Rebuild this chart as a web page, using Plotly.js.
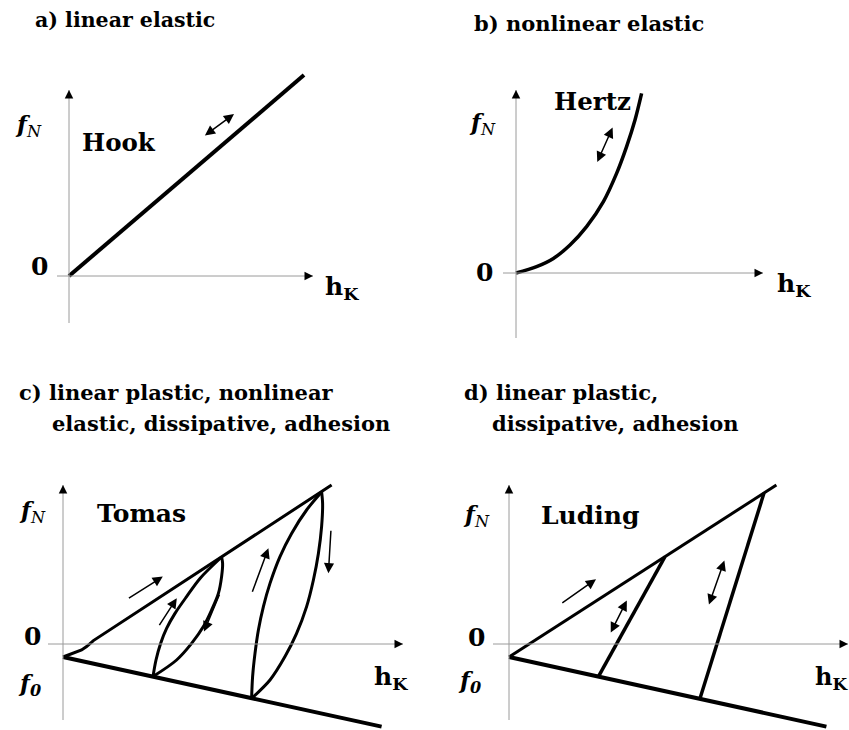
<!DOCTYPE html>
<html>
<head>
<meta charset="utf-8">
<script src="https://cdn.plot.ly/plotly-3.0.1.min.js"></script>
<style>
  html, body { margin: 0; padding: 0; background: #ffffff; }
  #chart { width: 849px; height: 730px; }
</style>
</head>
<body>
<div id="chart"></div>
<script>
// ---------------------------------------------------------------
// Contact force laws f_N(h_K), in arbitrary units
// ---------------------------------------------------------------

// a) linear elastic (Hook)
const hookH = [0, 11.75];
const hookF = [0, 10.05];

// b) nonlinear elastic (Hertz)
const hertzH = [0, 1.03, 1.87, 2.7, 3.53, 4.37, 5.03, 5.53, 5.95, 6.28];
const hertzF = [0, 0.32, 0.73, 1.4, 2.32, 3.57, 4.98, 6.32, 7.65, 8.98];

// c) Tomas: plastic loading, adhesion limit and two hysteresis loops
const tomasLoadH = [0, 0.5, 0.93, 1.18, 1.35, 1.52, 13.43];
const tomasLoadF = [-0.65, -0.47, -0.3, -0.13, 0.03, 0.17, 7.95];
const tomasAdhesionH = [0, 15.93];
const tomasAdhesionF = [-0.65, -4.13];
const tomasReload1H = [4.5, 4.65, 4.88, 5.18, 5.6, 6.18, 6.85, 7.93];
const tomasReload1F = [-1.63, -0.8, 0.03, 0.78, 1.53, 2.37, 3.28, 4.35];
const tomasUnload1H = [7.93, 7.98, 7.93, 7.77, 7.43, 7.02, 6.43, 5.68, 4.5];
const tomasUnload1F = [4.35, 4.03, 3.37, 2.53, 1.7, 0.87, 0.03, -0.8, -1.63];
const tomasReload2H = [9.43, 9.48, 9.6, 9.77, 10.02, 10.35, 10.85, 11.43, 12.18, 12.93];
const tomasReload2F = [-2.72, -1.63, -0.47, 0.7, 1.87, 3.03, 4.37, 5.53, 6.7, 7.6];
const tomasUnload2H = [12.93, 12.98, 12.93, 12.77, 12.52, 12.18, 11.68, 11.1, 10.35, 9.43];
const tomasUnload2F = [7.6, 7.03, 5.87, 4.53, 3.2, 1.87, 0.53, -0.63, -1.8, -2.72];

// d) Luding: linear plastic loading, linear unloading, adhesion limit
const ludingLoadH = [0, 13.37];
const ludingLoadF = [-0.65, 7.95];
const ludingAdhesionH = [0, 15.87];
const ludingAdhesionF = [-0.65, -4.13];
const ludingUnload1H = [7.8, 4.47];
const ludingUnload1F = [4.37, -1.63];
const ludingUnload2H = [12.75, 9.55];
const ludingUnload2F = [7.55, -2.72];

// Direction arrows: [tailH, tailF, headH, headF, twoHeaded]
const hookArrows = [[6.72, 6.97, 8.25, 8.1, true]];
const hertzArrows = [[4.03, 5.48, 4.83, 7.27, true]];
const tomasArrows = [
  [3.22, 2.24, 4.99, 3.37, false],
  [4.77, 0.87, 5.69, 2.29, false],
  [7.85, 2.54, 7.05, 0.62, false],
  [9.44, 2.54, 10.27, 4.79, false],
  [13.4, 5.74, 13.27, 3.54, false]
];
const ludingArrows = [
  [2.59, 2.0, 4.35, 3.24, false],
  [5.05, 0.5, 5.89, 2.17, true],
  [9.97, 1.9, 10.77, 4.17, true]
];

// Axis extents: [hMin, hMax, fMin, fMax]
const axisExtents = [
  [-0.6, 12.2, -2.35, 9.3],
  [-0.65, 12.35, -3.25, 9.15],
  [-0.75, 17.0, -3.8, 7.95],
  [-0.8, 16.95, -3.8, 7.95]
];

// ---------------------------------------------------------------
// Page geometry: each panel gets its own pair of hidden axes
// ---------------------------------------------------------------
const W = 849, H = 730, S = 20;   // S = pixels per unit
function frame(x0, x1, y0, y1, ox, oy) {
  return {
    x: { domain: [x0 / W, x1 / W], range: [(x0 - ox) / S, (x1 - ox) / S] },
    y: { domain: [1 - y1 / H, 1 - y0 / H], range: [(oy - y1) / S, (oy - y0) / S] }
  };
}
const frames = [
  frame(0, 424, 40, 345, 69, 276),
  frame(425, 849, 40, 345, 516, 273),
  frame(0, 424, 450, 730, 63, 644),
  frame(425, 849, 450, 730, 509, 644)
];
const refs = ['', '2', '3', '4'];

const FONT = 'DejaVu Serif';
const layout = {
  width: W, height: H,
  margin: { l: 0, r: 0, t: 0, b: 0 },
  paper_bgcolor: '#ffffff',
  plot_bgcolor: 'rgba(0,0,0,0)',
  font: { family: FONT },
  showlegend: false,
  shapes: [],
  annotations: []
};
frames.forEach((fr, i) => {
  const r = refs[i];
  layout['xaxis' + r] = Object.assign({ visible: false, fixedrange: true, anchor: 'y' + r }, fr.x);
  layout['yaxis' + r] = Object.assign({ visible: false, fixedrange: true, anchor: 'x' + r }, fr.y);
});

// ---------------------------------------------------------------
// Curves
// ---------------------------------------------------------------
const traces = [];
function curve(panel, h, f, width, smooth) {
  const r = refs[panel];
  traces.push({
    type: 'scatter', mode: 'lines', x: h, y: f,
    xaxis: 'x' + r, yaxis: 'y' + r,
    line: { color: '#000000', width: width, shape: smooth ? 'spline' : 'linear', smoothing: 0.9 },
    hoverinfo: 'skip'
  });
}
curve(0, hookH, hookF, 4, false);
curve(1, hertzH, hertzF, 3.5, true);
curve(2, tomasLoadH, tomasLoadF, 3, false);
curve(2, tomasAdhesionH, tomasAdhesionF, 4, false);
curve(2, tomasReload1H, tomasReload1F, 3, true);
curve(2, tomasUnload1H, tomasUnload1F, 3, true);
curve(2, tomasReload2H, tomasReload2F, 3, true);
curve(2, tomasUnload2H, tomasUnload2F, 3, true);
curve(3, ludingLoadH, ludingLoadF, 3, false);
curve(3, ludingAdhesionH, ludingAdhesionF, 4, false);
curve(3, ludingUnload1H, ludingUnload1F, 3.5, false);
curve(3, ludingUnload2H, ludingUnload2F, 3.5, false);

// ---------------------------------------------------------------
// Coordinate axes: thin grey lines with black arrow tips
// ---------------------------------------------------------------
axisExtents.forEach((e, i) => {
  const r = refs[i];
  const xr = 'x' + r, yr = 'y' + r;
  layout.shapes.push(
    { type: 'line', xref: xr, yref: yr, x0: e[0], x1: e[1], y0: 0, y1: 0, line: { color: '#9a9a9a', width: 1 } },
    { type: 'line', xref: xr, yref: yr, x0: 0, x1: 0, y0: e[2], y1: e[3], line: { color: '#9a9a9a', width: 1 } }
  );
  const tip = { text: '', showarrow: true, arrowhead: 2, arrowsize: 1.7, arrowwidth: 1,
                arrowcolor: '#000000', xref: xr, yref: yr, axref: xr, ayref: yr, standoff: 0 };
  layout.annotations.push(
    Object.assign({}, tip, { x: e[1], y: 0, ax: e[1] - 0.45, ay: 0 }),
    Object.assign({}, tip, { x: 0, y: e[3], ax: 0, ay: e[3] - 0.45 })
  );
});

// Direction arrows along the curves
[hookArrows, hertzArrows, tomasArrows, ludingArrows].forEach((list, i) => {
  const r = refs[i];
  list.forEach(a => {
    layout.annotations.push({
      text: '', showarrow: true,
      xref: 'x' + r, yref: 'y' + r, axref: 'x' + r, ayref: 'y' + r,
      ax: a[0], ay: a[1], x: a[2], y: a[3],
      arrowhead: 2, arrowsize: 1.35, arrowwidth: 1.5, arrowcolor: '#000000',
      arrowside: a[4] ? 'end+start' : 'end',
      startarrowhead: 2, startarrowsize: 1.35, standoff: 0, startstandoff: 0
    });
  });
});

// ---------------------------------------------------------------
// Text
// ---------------------------------------------------------------
function label(panel, x, y, text, size, anchor) {
  const r = refs[panel];
  layout.annotations.push({
    xref: 'x' + r, yref: 'y' + r, x: x, y: y, text: text, showarrow: false,
    xanchor: anchor || 'center', yanchor: 'middle',
    font: { family: FONT, size: size, color: '#000000' }
  });
}
const fN = '<b><i>f</i></b><sub><i>N</i></sub>';
const f0 = '<b><i>f</i></b><sub><b><i>0</i></b></sub>';
const hK = '<b>h</b><sub><b>K</b></sub>';

label(0, 2.5, 6.7, '<b>Hook</b>', 24.5);
label(0, -2.05, 7.55, fN, 23);
label(0, -1.5, 0.5, '<b>0</b>', 25);
label(0, 12.7, -0.6, hK, 25, 'left');

label(1, 3.83, 8.6, '<b>Hertz</b>', 24.5);
label(1, -1.7, 7.5, fN, 23);
label(1, -1.6, 0.05, '<b>0</b>', 25);
label(1, 12.95, -0.6, hK, 25, 'left');

label(2, 3.93, 6.55, '<b>Tomas</b>', 25);
label(2, -1.55, 6.65, fN, 23);
label(2, -1.55, 0.4, '<b>0</b>', 25);
label(2, -1.65, -2.0, f0, 23);
label(2, 15.45, -1.7, hK, 25, 'left');

label(3, 4.05, 6.45, '<b>Luding</b>', 25);
label(3, -1.65, 6.45, fN, 23);
label(3, -1.65, 0.35, '<b>0</b>', 25);
label(3, -1.95, -1.85, f0, 23);
label(3, 15.2, -1.7, hK, 24, 'left');

function title(px, py, text, size) {
  layout.annotations.push({
    xref: 'paper', yref: 'paper', x: px / W, y: 1 - py / H, text: '<b>' + text + '</b>',
    showarrow: false, xanchor: 'left', yanchor: 'middle',
    font: { family: FONT, size: size, color: '#000000' }
  });
}
title(33, 20, 'a) linear elastic', 20.5);
title(472, 23, 'b) nonlinear elastic', 21);
title(17, 393, 'c) linear plastic, nonlinear', 21);
title(50, 424, 'elastic, dissipative, adhesion', 21);
title(462, 393, 'd) linear plastic,', 21);
title(490, 424, 'dissipative, adhesion', 21);

Plotly.newPlot('chart', traces, layout, { staticPlot: true, displayModeBar: false });
</script>
</body>
</html>
